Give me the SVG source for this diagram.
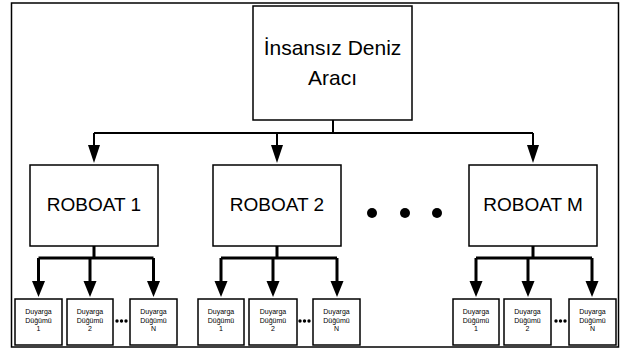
<svg xmlns="http://www.w3.org/2000/svg" width="626" height="352" viewBox="0 0 626 352">
<style>
.box{fill:#fff;stroke:#000;stroke-width:1.5}
.big{font-family:"Liberation Sans",Arial,sans-serif;font-size:21px;fill:#000;text-anchor:middle}
.mid{font-family:"Liberation Sans",Arial,sans-serif;font-size:19px;fill:#000;text-anchor:middle}
.sm{font-family:"Liberation Sans",Arial,sans-serif;font-size:7px;fill:#000;text-anchor:middle}
.l1{fill:none;stroke:#000;stroke-width:2}
.l2{fill:none;stroke:#000;stroke-width:3}
.ah{fill:#000}
</style>
<rect x="11.5" y="3" width="607" height="344" fill="#fff" stroke="#000" stroke-width="1.5"/>
<g id="connectors">
<path class="l1" d="M333,120 V133 M94,133 H533 M94,133 V146 M277,133 V146 M533,133 V146"/>
<polygon class="ah" points="88,145 100,145 94,163"/>
<polygon class="ah" points="271,145 283,145 277,163"/>
<polygon class="ah" points="527,145 539,145 533,163"/>
<path class="l2" d="M94,246 V258 M38.5,258 H153.5 M38.5,258 V282 M90,258 V282 M153.5,258 V282"/>
<polygon class="ah" points="32,281 45,281 38.5,297"/>
<polygon class="ah" points="83.5,281 96.5,281 90,297"/>
<polygon class="ah" points="147,281 160,281 153.5,297"/>
<path class="l2" d="M277,246 V258 M221,258 H337 M221,258 V282 M273,258 V282 M337,258 V282"/>
<polygon class="ah" points="214.5,281 227.5,281 221,297"/>
<polygon class="ah" points="266.5,281 279.5,281 273,297"/>
<polygon class="ah" points="330.5,281 343.5,281 337,297"/>
<path class="l2" d="M533,246 V258 M476,258 H592 M476,258 V282 M528,258 V282 M592,258 V282"/>
<polygon class="ah" points="469.5,281 482.5,281 476,297"/>
<polygon class="ah" points="521.5,281 534.5,281 528,297"/>
<polygon class="ah" points="585.5,281 598.5,281 592,297"/>
</g>
<g id="usv">
<rect class="box" x="253" y="6" width="159" height="114"/>
<text class="big" x="332.5" y="55">İnsansız Deniz</text>
<text class="big" x="332.5" y="85">Aracı</text>
</g>
<g id="roboat1">
<rect class="box" x="30" y="165" width="128" height="81"/>
<text class="mid" x="94" y="211">ROBOAT 1</text>
</g>
<g id="roboat2">
<rect class="box" x="213" y="165" width="128" height="81"/>
<text class="mid" x="277" y="211">ROBOAT 2</text>
</g>
<g id="roboatM">
<rect class="box" x="469" y="165" width="128" height="81"/>
<text class="mid" x="533" y="211">ROBOAT M</text>
</g>
<g id="dots-roboat">
<circle cx="372" cy="213" r="5"/>
<circle cx="405" cy="213" r="5"/>
<circle cx="437" cy="213" r="5"/>
</g>
<g id="s1-1"><rect class="box" x="15" y="299" width="47" height="46"/><text class="sm" x="38.5" y="314">Duyarga</text><text class="sm" x="38.5" y="323">Düğümü</text><text class="sm" x="38.5" y="331">1</text></g>
<g id="s1-2"><rect class="box" x="67" y="299" width="46" height="46"/><text class="sm" x="90" y="314">Duyarga</text><text class="sm" x="90" y="323">Düğümü</text><text class="sm" x="90" y="331">2</text></g>
<g id="s1-n"><rect class="box" x="130" y="299" width="47" height="46"/><text class="sm" x="153.5" y="314">Duyarga</text><text class="sm" x="153.5" y="323">Düğümü</text><text class="sm" x="153.5" y="331">N</text></g>
<g id="s2-1"><rect class="box" x="198" y="299" width="46" height="46"/><text class="sm" x="221" y="314">Duyarga</text><text class="sm" x="221" y="323">Düğümü</text><text class="sm" x="221" y="331">1</text></g>
<g id="s2-2"><rect class="box" x="249" y="299" width="48" height="46"/><text class="sm" x="273" y="314">Duyarga</text><text class="sm" x="273" y="323">Düğümü</text><text class="sm" x="273" y="331">2</text></g>
<g id="s2-n"><rect class="box" x="313" y="299" width="47" height="46"/><text class="sm" x="336.5" y="314">Duyarga</text><text class="sm" x="336.5" y="323">Düğümü</text><text class="sm" x="336.5" y="331">N</text></g>
<g id="s3-1"><rect class="box" x="453" y="299" width="46" height="46"/><text class="sm" x="476" y="314">Duyarga</text><text class="sm" x="476" y="323">Düğümü</text><text class="sm" x="476" y="331">1</text></g>
<g id="s3-2"><rect class="box" x="504" y="299" width="47" height="46"/><text class="sm" x="527.5" y="314">Duyarga</text><text class="sm" x="527.5" y="323">Düğümü</text><text class="sm" x="527.5" y="331">2</text></g>
<g id="s3-n"><rect class="box" x="569" y="299" width="47" height="46"/><text class="sm" x="592.5" y="314">Duyarga</text><text class="sm" x="592.5" y="323">Düğümü</text><text class="sm" x="592.5" y="331">N</text></g>
<g id="dots-sensors">
<circle cx="117" cy="321" r="1.7"/><circle cx="121.5" cy="321" r="1.7"/><circle cx="126" cy="321" r="1.7"/>
<circle cx="300" cy="321" r="1.7"/><circle cx="304.5" cy="321" r="1.7"/><circle cx="309" cy="321" r="1.7"/>
<circle cx="556" cy="321" r="1.7"/><circle cx="560.5" cy="321" r="1.7"/><circle cx="565" cy="321" r="1.7"/>
</g>
</svg>
